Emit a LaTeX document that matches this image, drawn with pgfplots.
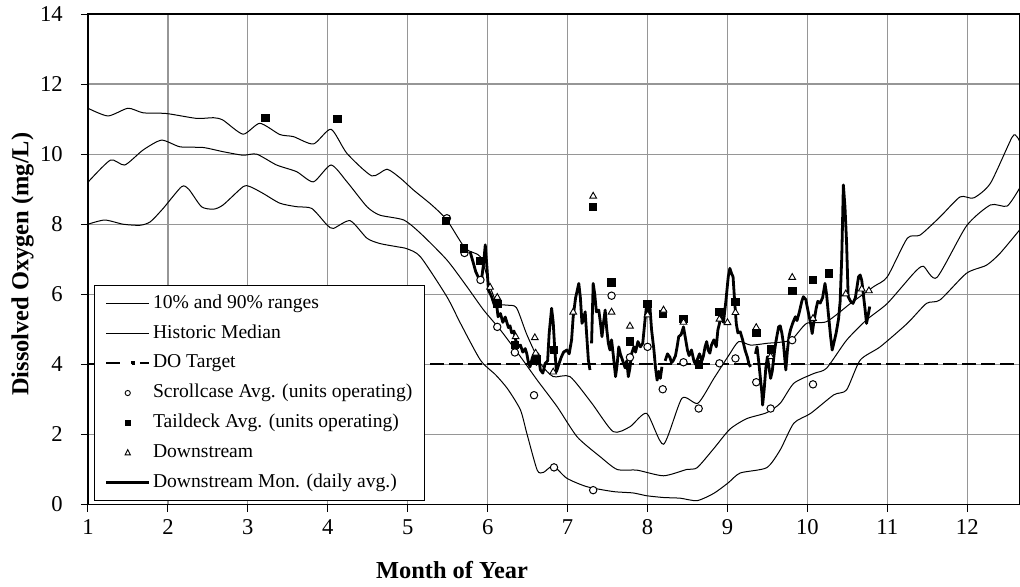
\documentclass[border=0pt]{standalone}
\usepackage{fontspec}
\setmainfont{Liberation Serif}
\usepackage{pgfplots}
\pgfplotsset{compat=1.18}
\definecolor{gridgray}{RGB}{150,150,150}

\pgfplotstableread{
x y
1.00 11.31
1.25 11.09
1.50 11.31
1.69 11.18
1.98 11.16
2.36 11.02
2.57 11.04
2.69 10.97
2.94 10.57
3.15 10.88
3.40 10.56
3.57 10.50
3.82 10.29
4.04 10.71
4.24 10.02
4.55 9.38
4.74 9.57
4.91 9.31
5.07 8.98
5.30 8.55
5.49 8.12
5.72 7.31
5.91 7.07
6.03 6.22
6.12 5.74
6.24 5.69
6.36 5.62
6.49 4.85
6.66 4.03
6.82 3.65
7.03 3.65
7.30 2.90
7.57 2.08
7.78 2.22
7.99 2.60
8.20 1.72
8.43 3.03
8.63 2.89
8.83 3.60
9.02 4.27
9.14 4.65
9.29 4.55
9.49 4.60
9.79 4.69
9.99 5.17
10.24 5.22
10.54 5.74
10.83 6.22
11.00 6.50
11.25 7.60
11.41 7.69
11.66 8.21
11.91 8.78
12.08 8.75
12.29 9.17
12.56 10.48
12.62 10.50
12.66 10.35
}\nineties

\pgfplotstableread{
x y
1.00 8.00
1.21 8.12
1.44 8.00
1.65 7.97
1.78 8.07
1.94 8.45
2.17 9.07
2.26 9.00
2.42 8.50
2.57 8.43
2.69 8.55
2.94 9.07
3.03 9.07
3.19 8.88
3.40 8.60
3.61 8.50
3.80 8.45
3.99 7.98
4.07 7.88
4.28 8.10
4.49 7.60
4.65 7.45
4.86 7.36
4.99 7.30
5.16 7.07
5.49 5.93
5.66 5.17
5.91 4.12
6.10 3.70
6.25 3.30
6.41 2.70
6.49 2.03
6.62 0.98
6.70 0.92
6.82 1.10
6.99 0.75
7.24 0.51
7.57 0.37
7.82 0.33
7.99 0.25
8.20 0.20
8.41 0.18
8.62 0.11
8.83 0.32
9.01 0.62
9.16 0.90
9.49 1.05
9.66 1.56
9.83 2.32
10.04 2.60
10.33 3.13
10.49 3.27
10.66 4.12
10.91 4.50
11.25 5.17
11.49 5.74
11.66 5.84
11.99 6.60
12.24 6.83
12.41 7.17
12.66 7.85
}\tens

\pgfplotstableread{
x y
1.00 9.20
1.28 9.83
1.46 9.69
1.69 10.12
1.92 10.40
2.15 10.21
2.44 10.19
2.69 10.07
2.94 9.97
3.11 10.00
3.36 9.69
3.61 9.50
3.82 9.21
4.04 9.69
4.24 9.21
4.49 8.50
4.65 8.26
4.95 8.12
5.16 7.74
5.49 6.98
5.74 6.22
5.95 5.55
6.16 4.98
6.41 4.22
6.62 3.55
6.87 2.79
7.12 1.93
7.41 1.36
7.62 1.00
7.87 0.98
8.20 0.82
8.49 1.00
8.62 1.05
8.83 1.60
9.03 2.15
9.24 2.45
9.49 2.62
9.66 2.89
9.83 3.46
10.08 3.74
10.24 3.89
10.49 4.69
10.74 5.27
11.00 5.74
11.33 6.60
11.45 6.80
11.62 6.48
11.99 7.95
12.29 8.55
12.50 8.52
12.66 9.05
}\median

\pgfplotstableread{
x y
5.78 7.22
5.82 6.90
5.85 6.65
5.88 6.50
5.92 6.36
5.95 6.90
5.97 7.41
5.99 6.80
6.01 6.12
6.05 5.93
6.09 5.65
6.11 5.75
6.13 5.36
6.16 5.45
6.19 5.20
6.22 5.35
6.26 5.05
6.28 5.10
6.30 4.90
6.33 4.95
6.35 4.70
6.38 4.50
6.41 4.55
6.44 4.35
6.47 4.45
6.49 4.30
6.51 4.05
6.53 3.93
6.56 4.20
6.58 4.25
6.61 4.00
6.63 4.30
6.66 3.84
6.69 3.75
6.72 4.03
6.75 4.10
6.77 4.90
6.80 5.60
6.82 5.20
6.84 4.41
6.86 3.79
6.89 4.00
6.92 4.20
6.95 4.35
6.99 4.41
7.02 4.30
7.05 4.70
7.07 5.36
7.10 5.90
7.14 6.31
7.16 5.90
7.18 5.17
7.20 5.30
7.22 5.50
7.24 4.80
7.26 4.12
7.28 3.84
7.29 nan
7.30 4.60
7.32 6.31
7.34 6.00
7.36 5.50
7.39 5.55
7.41 5.20
7.43 4.79
7.45 5.20
7.47 5.55
7.49 5.00
7.51 4.60
7.53 4.41
7.55 4.70
7.57 4.30
7.60 3.65
7.62 4.00
7.64 4.50
7.66 4.30
7.69 4.10
7.72 3.90
7.74 4.10
7.76 3.65
7.78 3.90
7.80 4.30
7.83 4.50
7.85 4.35
7.88 4.65
7.91 4.50
7.94 4.60
7.97 5.30
7.99 5.74
8.01 5.50
8.03 5.65
8.05 5.00
8.08 4.41
8.10 3.90
8.12 3.55
8.14 3.80
8.16 3.60
8.18 3.93
8.20 nan
8.22 4.10
8.25 4.30
8.28 4.20
8.30 4.05
8.32 4.10
8.35 4.25
8.37 4.50
8.39 4.79
8.42 4.85
8.45 5.07
8.47 4.80
8.50 4.40
8.52 4.25
8.55 4.41
8.58 4.10
8.60 4.00
8.62 4.12
8.65 4.30
8.68 4.10
8.70 4.25
8.72 4.50
8.74 4.65
8.76 4.40
8.78 4.32
8.80 4.55
8.83 4.70
8.86 4.50
8.88 4.98
8.92 5.36
8.95 5.20
8.98 5.80
9.01 6.50
9.03 6.74
9.05 6.60
9.07 6.50
9.09 5.80
9.11 5.17
9.13 4.90
9.16 4.93
9.19 4.70
9.22 4.41
9.25 4.20
9.27 4.00
9.29 3.93
9.32 nan
9.35 4.30
9.37 4.50
9.39 4.10
9.41 3.65
9.43 3.20
9.44 2.84
9.46 3.30
9.48 3.90
9.50 4.22
9.52 3.90
9.54 3.60
9.56 3.80
9.57 4.00
9.59 4.40
9.61 4.70
9.64 5.07
9.66 5.10
9.68 4.90
9.70 4.60
9.73 3.84
9.75 4.40
9.77 4.80
9.79 5.00
9.82 5.20
9.85 5.36
9.87 5.25
9.90 5.50
9.93 5.80
9.95 5.93
9.98 5.85
10.01 5.50
10.04 5.17
10.06 4.88
10.08 5.20
10.11 5.60
10.13 5.80
10.16 5.75
10.19 5.90
10.22 6.31
10.24 6.00
10.26 5.50
10.29 4.80
10.31 4.41
10.33 4.60
10.36 4.90
10.39 5.30
10.41 5.80
10.43 7.07
10.45 9.12
10.47 8.50
10.49 7.50
10.51 5.93
10.54 5.80
10.57 5.74
10.60 5.90
10.62 6.20
10.64 6.50
10.66 6.55
10.68 6.40
10.70 6.00
10.72 5.60
10.74 5.17
10.76 5.40
10.78 5.65
}\daily

\pgfplotstableread{
x y
5.49 8.17
5.71 7.18
5.91 6.41
6.12 5.07
6.34 4.34
6.58 3.12
6.83 1.06
7.32 0.41
7.55 5.96
7.78 4.20
8.00 4.50
8.19 3.29
8.45 4.06
8.64 2.74
8.90 4.03
9.10 4.17
9.36 3.49
9.54 2.74
9.81 4.69
10.07 3.43
}\scroll

\pgfplotstableread{
x y
3.22 11.03
4.12 11.00
5.48 8.09
5.70 7.31
5.91 6.96
6.12 5.72
6.34 4.55
6.61 4.14
6.83 4.41
7.32 8.50
7.55 6.34
7.78 4.65
8.00 5.72
8.19 5.44
8.45 5.29
8.64 4.00
8.90 5.49
9.10 5.79
9.36 4.90
9.54 4.43
9.81 6.10
10.07 6.41
10.27 6.60
}\tail

\pgfplotstableread{
x y
6.03 6.20
6.12 5.91
6.35 4.79
6.59 4.76
6.60 4.32
6.82 3.78
7.07 5.49
7.32 8.80
7.55 5.49
7.78 5.09
8.00 5.41
8.20 5.55
8.45 5.20
8.90 5.29
9.00 5.19
9.10 5.48
9.36 5.05
9.54 4.22
9.81 6.48
10.07 5.31
10.48 6.01
10.68 6.15
10.77 6.10
}\down

\begin{document}
\begin{tikzpicture}
\begin{axis}[
  at={(0,0)}, anchor=south west,
  width=466pt, height=245.25pt, scale only axis,
  xmin=1, xmax=12.66, ymin=0, ymax=14,
  xtick={1,2,...,12}, ytick={0,2,...,14},
  xtick pos=bottom, ytick pos=left,
  grid=major,
  major grid style={line width=0.6pt, draw=gridgray},
  tick align=outside, major tick length=3.6pt,
  tick style={black, line width=0.5pt},
  axis line style={line width=0.6pt},
  tick label style={font=\fontsize{11.3}{13}\selectfont},
  yticklabel style={xshift=-5.5pt},
  xticklabel style={yshift=-0.5pt},
  /pgf/number format/assume math mode=true,
  xlabel={Month of Year},
  ylabel={Dissolved Oxygen (mg/L)},
  label style={font=\fontsize{12.2}{14}\selectfont\bfseries},
  xlabel style={at={([yshift=-32.75pt]axis description cs:0.3906,0)}, anchor=center},
  ylabel style={at={([xshift=-32.75pt]axis description cs:0,0.49)}, anchor=center, rotate=0},
  legend style={at={(0.0068,0.0077)}, anchor=south west, draw=black, line width=0.5pt,
    fill=white, font=\fontsize{9.8}{11}\selectfont,
    inner xsep=5pt, inner ysep=4.2pt, row sep=5.5pt,
    nodes={inner xsep=1.2pt, inner ysep=0pt, text height=7pt, text depth=2.4pt}},
  legend cell align=left,
  legend image code/.code={\draw[#1] (0pt,0pt) -- (21.5pt,0pt);},
]
\addplot[black, line width=0.5pt, smooth, tension=0.4] table[x=x,y=y] {\nineties};
\addlegendentry{10\% and 90\% ranges}
\addplot[black, line width=0.5pt, smooth, tension=0.4, forget plot] table[x=x,y=y] {\tens};
\addplot[black, line width=0.5pt, smooth, tension=0.4] table[x=x,y=y] {\median};
\addlegendentry{Historic Median}
\addplot[black, line width=1.1pt, dash pattern=on 7pt off 2.5pt,
  legend image code/.code={
    \draw[black, line width=1.1pt] (0pt,0pt) -- (8.7pt,0pt);
    \fill[black] (12.8pt,-0.55pt) rectangle (13.9pt,0.55pt);
    \draw[black, line width=1.1pt] (16.8pt,0pt) -- (21.5pt,0pt);}]
  coordinates {(1,4) (12.66,4)};
\addlegendentry{DO Target}
\addplot[black, line width=1.4pt, line join=round, unbounded coords=jump, forget plot] table[x=x,y=y] {\daily};
\addplot[only marks, mark=*, mark size=1.85pt, mark options={fill=white, draw=black, line width=0.5pt},
  legend image code/.code={\path (0pt,0pt) (21.5pt,0pt);
    \draw[black, fill=white, line width=0.45pt] (10.75pt,0pt) circle (1.3pt);}]
  table[x=x,y=y] {\scroll};
\addlegendentry{Scrollcase Avg. (units operating)}
\addplot[only marks, mark=square*, mark size=1.85pt, mark options={fill=black, draw=black},
  legend image code/.code={\path (0pt,0pt) (21.5pt,0pt);
    \fill[black] (9.5pt,-1.25pt) rectangle (12pt,1.25pt);}]
  table[x=x,y=y] {\tail};
\addlegendentry{Taildeck Avg. (units operating)}
\addplot[only marks, mark=triangle*, mark size=1.95pt, mark options={fill=white, draw=black, line width=0.45pt},
  legend image code/.code={\path (0pt,0pt) (21.5pt,0pt);
    \draw[black, fill=white, line width=0.45pt] (9.45pt,-1.1pt) -- (12.05pt,-1.1pt) -- (10.75pt,1.5pt) -- cycle;}]
  table[x=x,y=y] {\down};
\addlegendentry{Downstream}
\addlegendimage{black, line width=1.4pt}
\addlegendentry{Downstream Mon. (daily avg.)}
\end{axis}
\pgfresetboundingbox
\path (-44pt,-40.75pt) rectangle (466pt,252.25pt);
\end{tikzpicture}
\end{document}
